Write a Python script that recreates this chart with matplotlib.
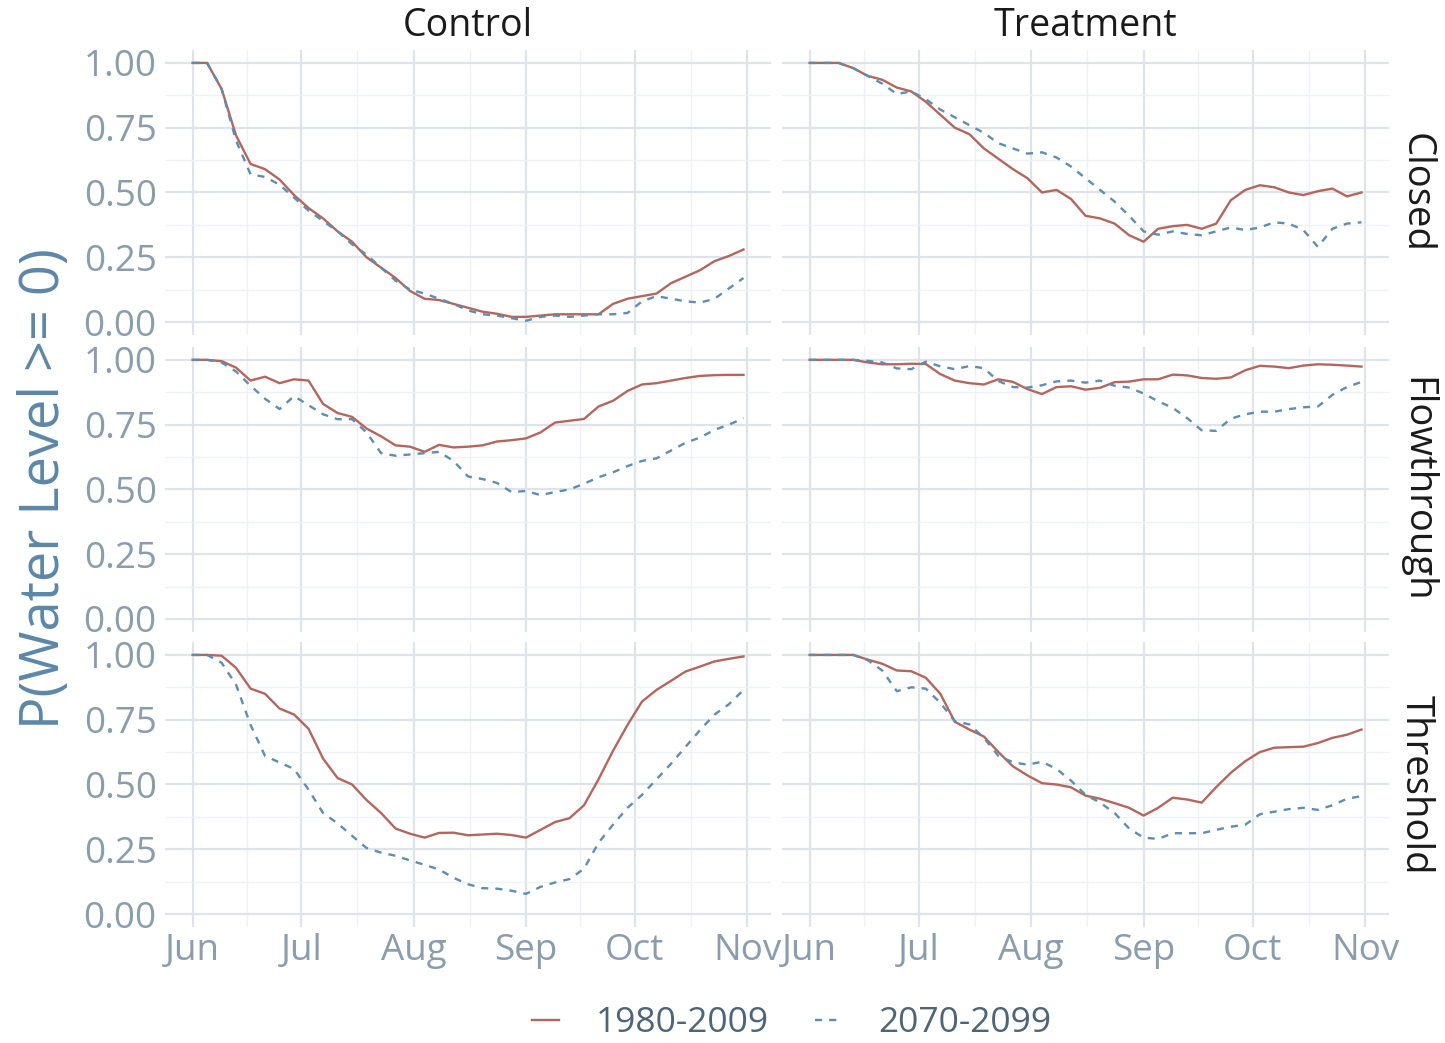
import matplotlib
matplotlib.use("Agg")
import matplotlib.pyplot as plt
from matplotlib.lines import Line2D
import numpy as np

plt.rcParams['font.family'] = ['Open Sans', 'DejaVu Sans']

# days after 1 June, every 4 days up to 31 Oct
days = np.arange(0, 153, 4)

month_ticks = [0, 30, 61, 92, 122, 153]
month_labels = ["Jun", "Jul", "Aug", "Sep", "Oct", "Nov"]
minor_x = [15, 45.5, 76.5, 107, 137.5]

col_names = ["Control", "Treatment"]
row_names = ["Closed", "Flowthrough", "Threshold"]
periods = ["1980-2009", "2070-2099"]

control_closed_hist = [1.0, 1.0, 0.90, 0.72, 0.61, 0.59, 0.55, 0.49, 0.44, 0.40, 0.35, 0.31, 0.25,
                       0.21, 0.17, 0.12, 0.09, 0.085, 0.07, 0.055, 0.04, 0.032, 0.02, 0.02, 0.025,
                       0.03, 0.03, 0.03, 0.03, 0.07, 0.09, 0.10, 0.11, 0.15, 0.175, 0.20, 0.235,
                       0.255, 0.28]
control_closed_fut = [1.0, 1.0, 0.90, 0.70, 0.57, 0.56, 0.53, 0.48, 0.43, 0.39, 0.35, 0.30, 0.26,
                      0.21, 0.16, 0.125, 0.11, 0.09, 0.07, 0.045, 0.03, 0.025, 0.015, 0.005, 0.02,
                      0.025, 0.02, 0.025, 0.03, 0.03, 0.035, 0.08, 0.10, 0.09, 0.08, 0.075, 0.09,
                      0.13, 0.17]
treat_closed_hist = [1.0, 1.0, 1.0, 0.98, 0.95, 0.935, 0.905, 0.89, 0.85, 0.80, 0.75, 0.725, 0.67,
                     0.63, 0.59, 0.555, 0.50, 0.51, 0.475, 0.41, 0.40, 0.38, 0.335, 0.31, 0.36,
                     0.37, 0.375, 0.36, 0.38, 0.47, 0.51, 0.528, 0.52, 0.50, 0.49, 0.505, 0.515,
                     0.485, 0.50]
treat_closed_fut = [1.0, 1.0, 1.0, 0.98, 0.95, 0.92, 0.88, 0.89, 0.86, 0.82, 0.79, 0.76, 0.73,
                    0.69, 0.67, 0.65, 0.655, 0.635, 0.60, 0.555, 0.51, 0.465, 0.41, 0.35, 0.337,
                    0.35, 0.34, 0.335, 0.35, 0.365, 0.355, 0.365, 0.385, 0.38, 0.355, 0.29, 0.36,
                    0.38, 0.385]
control_flow_hist = [1.0, 1.0, 0.995, 0.97, 0.92, 0.935, 0.91, 0.925, 0.92, 0.83, 0.795, 0.78,
                     0.735, 0.705, 0.67, 0.665, 0.645, 0.672, 0.662, 0.665, 0.67, 0.685, 0.69,
                     0.697, 0.72, 0.758, 0.765, 0.772, 0.82, 0.842, 0.88, 0.905, 0.91, 0.92,
                     0.93, 0.938, 0.941, 0.942, 0.942]
control_flow_fut = [1.0, 1.0, 0.99, 0.955, 0.90, 0.85, 0.81, 0.86, 0.825, 0.79, 0.771, 0.771,
                    0.72, 0.64, 0.63, 0.635, 0.64, 0.645, 0.61, 0.55, 0.54, 0.525, 0.49, 0.494,
                    0.478, 0.49, 0.50, 0.522, 0.547, 0.566, 0.59, 0.61, 0.62, 0.65, 0.68, 0.70,
                    0.73, 0.75, 0.775]
treat_flow_hist = [1.0, 1.0, 1.0, 1.0, 0.99, 0.983, 0.983, 0.985, 0.984, 0.945, 0.92, 0.91, 0.905,
                   0.925, 0.915, 0.887, 0.868, 0.895, 0.898, 0.885, 0.892, 0.914, 0.916, 0.925,
                   0.925, 0.943, 0.94, 0.93, 0.927, 0.932, 0.96, 0.977, 0.974, 0.968, 0.978,
                   0.983, 0.981, 0.978, 0.974]
treat_flow_fut = [1.0, 1.0, 1.0, 1.0, 0.996, 0.99, 0.967, 0.964, 0.993, 0.975, 0.964, 0.976, 0.968,
                  0.918, 0.895, 0.893, 0.902, 0.917, 0.92, 0.912, 0.92, 0.90, 0.893, 0.87, 0.84,
                  0.815, 0.775, 0.728, 0.726, 0.773, 0.79, 0.80, 0.80, 0.81, 0.817, 0.82, 0.865,
                  0.895, 0.915]
control_thr_hist = [1.0, 1.0, 0.997, 0.95, 0.87, 0.85, 0.793, 0.77, 0.715, 0.60, 0.525, 0.50, 0.44,
                    0.39, 0.33, 0.31, 0.295, 0.313, 0.314, 0.304, 0.307, 0.31, 0.305, 0.295, 0.325,
                    0.355, 0.37, 0.42, 0.52, 0.63, 0.73, 0.82, 0.865, 0.90, 0.936, 0.955, 0.975,
                    0.985, 0.994]
control_thr_fut = [1.0, 1.0, 0.97, 0.885, 0.73, 0.61, 0.585, 0.56, 0.48, 0.39, 0.35, 0.302, 0.255,
                   0.237, 0.225, 0.207, 0.19, 0.172, 0.14, 0.115, 0.10, 0.098, 0.09, 0.078, 0.105,
                   0.122, 0.135, 0.175, 0.275, 0.345, 0.41, 0.46, 0.52, 0.58, 0.645, 0.71, 0.77,
                   0.81, 0.865]
treat_thr_hist = [1.0, 1.0, 1.0, 1.0, 0.982, 0.966, 0.94, 0.937, 0.912, 0.85, 0.742, 0.712, 0.685,
                  0.625, 0.57, 0.535, 0.505, 0.50, 0.489, 0.457, 0.445, 0.428, 0.41, 0.38, 0.41,
                  0.449, 0.442, 0.43, 0.49, 0.545, 0.59, 0.625, 0.642, 0.644, 0.646, 0.66, 0.68,
                  0.692, 0.712]
treat_thr_fut = [1.0, 1.0, 1.0, 1.0, 0.98, 0.94, 0.86, 0.875, 0.87, 0.815, 0.744, 0.732, 0.68,
                 0.61, 0.586, 0.576, 0.588, 0.56, 0.515, 0.46, 0.43, 0.39, 0.33, 0.295, 0.29,
                 0.312, 0.312, 0.312, 0.325, 0.337, 0.345, 0.385, 0.395, 0.405, 0.41, 0.402, 0.42,
                 0.445, 0.455]

panels = [
    [(control_closed_hist, control_closed_fut), (treat_closed_hist, treat_closed_fut)],
    [(control_flow_hist, control_flow_fut), (treat_flow_hist, treat_flow_fut)],
    [(control_thr_hist, control_thr_fut), (treat_thr_hist, treat_thr_fut)],
]

red = "#B5665C"
blue = "#5E8DB3"
tick_col = "#8A9DAD"
grid_major = "#DEE4EA"
grid_minor = "#EEF1F5"

fig = plt.figure(figsize=(14.45, 10.43), dpi=100)

lefts = [0.1142, 0.5412]
widths = [0.4194, 0.4201]
bottoms = [0.6788, 0.3941, 0.1112]
height = 0.2733

for r in range(3):
    for c in range(2):
        ax = fig.add_axes([lefts[c], bottoms[r], widths[c], height])
        hist, fut = panels[r][c]
        ax.plot(days, hist, color=red, lw=1.7, zorder=3)
        ax.plot(days, fut, color=blue, lw=1.7, ls=(0, (3, 3)), zorder=3)

        ax.set_xlim(-7.6, 159.6)
        ax.set_ylim(-0.05, 1.05)
        ax.set_xticks(month_ticks)
        ax.set_xticks(minor_x, minor=True)
        ax.set_yticks([0, 0.25, 0.5, 0.75, 1.0])
        ax.set_yticks([0.125, 0.375, 0.625, 0.875], minor=True)
        ax.grid(which="major", color=grid_major, lw=1.6)
        ax.grid(which="minor", color=grid_minor, lw=1.0)
        ax.set_axisbelow(True)
        for s in ax.spines.values():
            s.set_visible(False)
        ax.tick_params(which="both", length=0, colors=tick_col, labelsize=26.5)
        ax.tick_params(axis="y", pad=6)
        ax.tick_params(axis="x", pad=4)

        if c == 0:
            ax.set_yticklabels(["0.00", "0.25", "0.50", "0.75", "1.00"])
        else:
            ax.set_yticklabels([])
        if r == 2:
            ax.set_xticklabels(month_labels)
        else:
            ax.set_xticklabels([])

        if r == 0:
            ax.set_title(col_names[c], fontsize=27, color="#1A1A1A", pad=10)
        if c == 1:
            ax.text(1.013, 0.5, row_names[r], transform=ax.transAxes, rotation=270,
                    ha="left", va="center", fontsize=27.5, color="#1A1A1A")

fig.text(0.031, 0.532, "P(Water Level >= 0)", rotation=90, ha="center", va="center",
         fontsize=39, color="#5B87A8")

handles = [Line2D([], [], color=red, lw=1.7),
           Line2D([], [], color=blue, lw=1.7, ls=(0, (3, 3)))]
fig.legend(handles, periods, loc="lower center", bbox_to_anchor=(0.548, -0.028), ncol=2,
           frameon=False, fontsize=25.5, labelcolor="#4E6478", handlelength=0.75,
           handletextpad=1.05, columnspacing=1.3)

fig.savefig("out.png", dpi=100)
